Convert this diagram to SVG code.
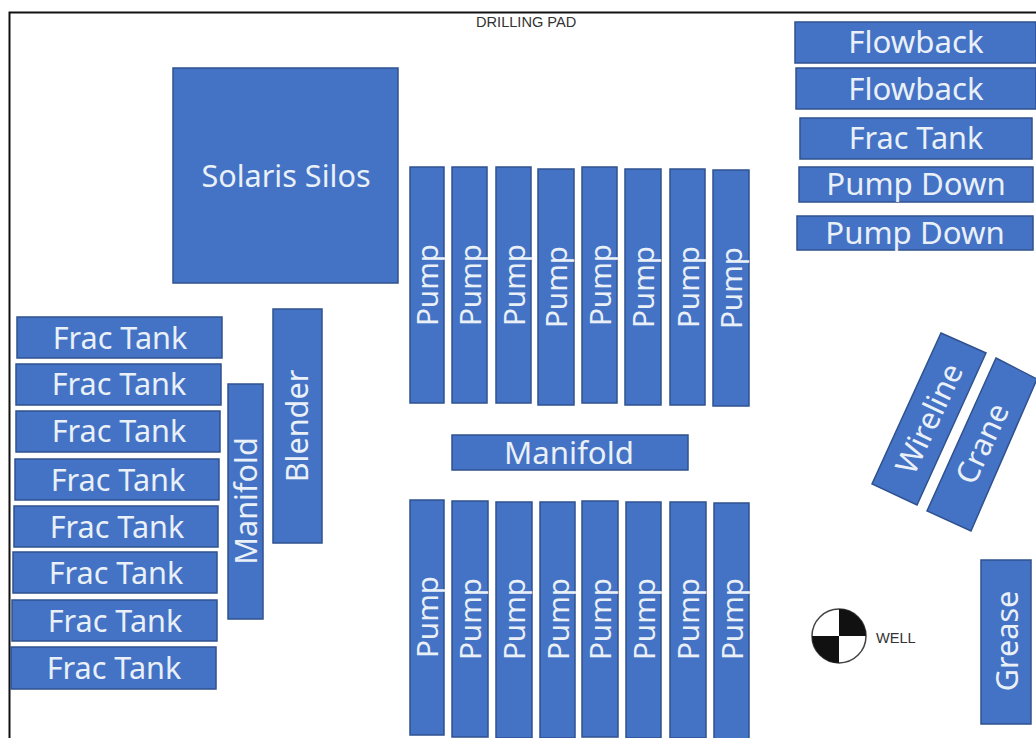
<svg xmlns="http://www.w3.org/2000/svg" width="1036" height="738" viewBox="0 0 1036 738">
<style>
.b{fill:#4472c4;stroke:#2f528f;stroke-width:1.5}
.t{font-family:"Noto Sans","Open Sans",sans-serif;font-size:30.6px;fill:#e9f0f8;text-anchor:middle;dominant-baseline:central}
.w{font-size:31.2px}
.p{font-family:"Noto Sans",sans-serif;font-size:29.6px;fill:#e9f0f8;text-anchor:middle;dominant-baseline:central}
.l{font-family:"Liberation Sans",Arial,sans-serif;font-size:14.6px;fill:#333}
</style>
<rect width="1036" height="738" fill="#fff"/>
<path id="pad-border" d="M1036 12.5H9.5V738" fill="none" stroke="#111" stroke-width="2"/>
<g id="drilling-pad-label"><text class="l" x="476" y="27">DRILLING PAD</text></g>
<g id="solaris"><rect class="b" x="173" y="68" width="225" height="215"/><text class="t" x="286" y="175">Solaris Silos</text></g>
<g id="frac1"><rect class="b" x="17" y="317" width="205" height="41"/><text class="t" x="120" y="337">Frac Tank</text></g>
<g id="frac2"><rect class="b" x="16" y="364" width="205" height="41"/><text class="t" x="119" y="383">Frac Tank</text></g>
<g id="frac3"><rect class="b" x="16" y="411" width="204" height="41"/><text class="t" x="119" y="430">Frac Tank</text></g>
<g id="frac4"><rect class="b" x="15" y="459" width="204" height="41"/><text class="t" x="118" y="479">Frac Tank</text></g>
<g id="frac5"><rect class="b" x="14" y="506" width="204" height="41"/><text class="t" x="117" y="526">Frac Tank</text></g>
<g id="frac6"><rect class="b" x="13" y="552" width="204" height="41"/><text class="t" x="116" y="572">Frac Tank</text></g>
<g id="frac7"><rect class="b" x="12" y="600" width="205" height="41"/><text class="t" x="115" y="620">Frac Tank</text></g>
<g id="frac8"><rect class="b" x="11" y="647" width="205" height="42"/><text class="t" x="114" y="667">Frac Tank</text></g>
<g id="manifold-v"><rect class="b" x="228" y="384" width="35" height="235"/><text class="t" transform="translate(245 501) rotate(-90)">Manifold</text></g>
<g id="blender"><rect class="b" x="273" y="309" width="49" height="234"/><text class="t" transform="translate(296 426) rotate(-90)">Blender</text></g>
<g id="pump-t1"><rect class="b" x="410" y="167" width="34" height="236"/><text class="p" transform="translate(426 285) rotate(-90)">Pump</text></g>
<g id="pump-t2"><rect class="b" x="452" y="167" width="35" height="236"/><text class="p" transform="translate(469 285) rotate(-90)">Pump</text></g>
<g id="pump-t3"><rect class="b" x="496" y="167" width="35" height="236"/><text class="p" transform="translate(513 285) rotate(-90)">Pump</text></g>
<g id="pump-t4"><rect class="b" x="538" y="169" width="36" height="236"/><text class="p" transform="translate(555 287) rotate(-90)">Pump</text></g>
<g id="pump-t5"><rect class="b" x="582" y="167" width="35" height="236"/><text class="p" transform="translate(599 285) rotate(-90)">Pump</text></g>
<g id="pump-t6"><rect class="b" x="625" y="169" width="36" height="236"/><text class="p" transform="translate(642 287) rotate(-90)">Pump</text></g>
<g id="pump-t7"><rect class="b" x="670" y="169" width="35" height="236"/><text class="p" transform="translate(687 287) rotate(-90)">Pump</text></g>
<g id="pump-t8"><rect class="b" x="713" y="170" width="36" height="236"/><text class="p" transform="translate(730 288) rotate(-90)">Pump</text></g>
<g id="manifold-h"><rect class="b" x="452" y="435" width="236" height="35"/><text class="t w" x="569" y="452">Manifold</text></g>
<g id="pump-b1"><rect class="b" x="410" y="500" width="34" height="235"/><text class="p" transform="translate(426 617) rotate(-90)">Pump</text></g>
<g id="pump-b2"><rect class="b" x="452" y="501" width="36" height="236"/><text class="p" transform="translate(469 619) rotate(-90)">Pump</text></g>
<g id="pump-b3"><rect class="b" x="496" y="502" width="36" height="236"/><text class="p" transform="translate(513 619) rotate(-90)">Pump</text></g>
<g id="pump-b4"><rect class="b" x="540" y="502" width="35" height="236"/><text class="p" transform="translate(557 619) rotate(-90)">Pump</text></g>
<g id="pump-b5"><rect class="b" x="582" y="501" width="36" height="236"/><text class="p" transform="translate(599 619) rotate(-90)">Pump</text></g>
<g id="pump-b6"><rect class="b" x="626" y="502" width="35" height="236"/><text class="p" transform="translate(643 619) rotate(-90)">Pump</text></g>
<g id="pump-b7"><rect class="b" x="670" y="502" width="36" height="236"/><text class="p" transform="translate(687 619) rotate(-90)">Pump</text></g>
<g id="pump-b8"><rect class="b" x="714" y="503" width="35" height="236"/><text class="p" transform="translate(731 619) rotate(-90)">Pump</text></g>
<g id="flowback1"><rect class="b" x="795" y="22" width="241" height="41"/><text class="t w" x="916" y="41">Flowback</text></g>
<g id="flowback2"><rect class="b" x="796" y="68" width="240" height="41"/><text class="t w" x="916" y="88">Flowback</text></g>
<g id="frac-r"><rect class="b" x="800" y="118" width="232" height="41"/><text class="t" x="916" y="137">Frac Tank</text></g>
<g id="pumpdown1"><rect class="b" x="799" y="167" width="234" height="35"/><text class="t w" x="916" y="183">Pump Down</text></g>
<g id="pumpdown2"><rect class="b" x="797" y="216" width="236" height="34"/><text class="t w" x="915" y="232">Pump Down</text></g>
<g id="wireline"><polygon class="b" points="941,333 986,353 917,505 872,484"/><text class="t" transform="translate(928 418) rotate(-65)">Wireline</text></g>
<g id="crane"><polygon class="b" points="996,358 1037,379 971,531 927,511"/><text class="t" transform="translate(981 443) rotate(-65)">Crane</text></g>
<g id="grease"><rect class="b" x="981" y="560" width="50" height="164"/><text class="t" transform="translate(1006 641) rotate(-90)">Grease</text></g>
<g id="well"><circle cx="839" cy="636" r="27" fill="#fff" stroke="#444" stroke-width="1.5"/><path d="M839 636V609A27 27 0 0 1 866 636ZM839 636V663A27 27 0 0 1 812 636Z" fill="#111"/><text class="l" x="876" y="643">WELL</text></g>
</svg>
